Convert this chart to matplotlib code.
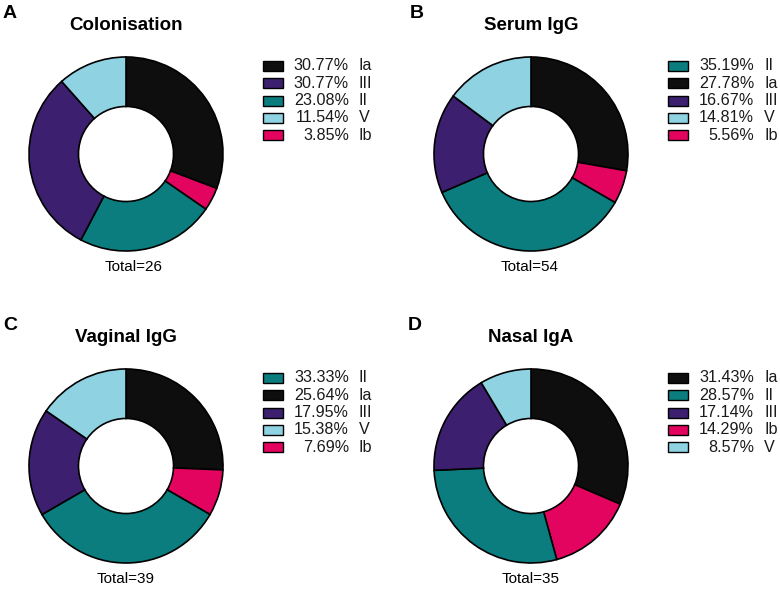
import matplotlib
matplotlib.use('Agg')
import matplotlib.pyplot as plt
from matplotlib.patches import Rectangle

plt.rcParams['font.family'] = ['Liberation Sans', 'DejaVu Sans']

# serotypes in clockwise drawing order
serotypes = ['Ia', 'Ib', 'II', 'III', 'V']
colours = ['#0e0e0e', '#e2045f', '#0b7d7e', '#3c1f6f', '#8fd3e3']

titles = ['Colonisation', 'Serum IgG', 'Vaginal IgG', 'Nasal IgA']
letters = ['A', 'B', 'C', 'D']
totals = [26, 54, 39, 35]

colonisation = [30.77, 3.85, 23.08, 30.77, 11.54]
serum_igg = [27.78, 5.56, 35.19, 16.67, 14.81]
vaginal_igg = [25.64, 7.69, 33.33, 17.95, 15.38]
nasal_iga = [31.43, 14.29, 28.57, 17.14, 8.57]
panels = [colonisation, serum_igg, vaginal_igg, nasal_iga]

W, H = 780, 589
fig = plt.figure(figsize=(W / 100, H / 100), dpi=100)


def fx(px):
    return px / W


def fy(py):
    return 1 - py / H


# layout in pixels: donut centre, letter x, total x, legend box x
centres = [(126, 154), (531, 154), (126, 466), (531, 466)]
letter_x = [3, 410, 3, 408]
total_x = [134, 530, 126, 531]
legend_x = [263, 668, 263, 668]
R = 97
pad = 1.03

for i, vals in enumerate(panels):
    cx, cy = centres[i]
    dy = cy - 154
    r = R * pad
    ax = fig.add_axes([fx(cx - r), fy(cy + r), 2 * r / W, 2 * r / H])
    ax.pie(vals, colors=colours, startangle=90, counterclock=False,
           wedgeprops=dict(width=0.51, edgecolor='black', linewidth=1.2))
    ax.set_xlim(-pad, pad)
    ax.set_ylim(-pad, pad)
    ax.axis('off')

    fig.text(fx(letter_x[i]), fy(13 + dy), letters[i], fontsize=14,
             fontweight='bold', ha='left', va='center')
    fig.text(fx(cx), fy(25 + dy), titles[i], fontsize=13.5,
             fontweight='bold', ha='center', va='center')
    fig.text(fx(total_x[i]), fy(267 + dy), 'Total=%d' % totals[i],
             fontsize=11, ha='center', va='center')

    # legend sorted by share, largest first
    order = sorted(range(len(vals)), key=lambda k: -vals[k])
    bx = legend_x[i]
    for row, k in enumerate(order):
        ry = 66 + dy + row * 17.3
        fig.add_artist(Rectangle((fx(bx), fy(ry + 5)), 20 / W, 10 / H,
                                 transform=fig.transFigure,
                                 facecolor=colours[k], edgecolor='black',
                                 linewidth=1.0))
        fig.text(fx(bx + 86), fy(ry), '%.2f%%' % vals[k], fontsize=11.6,
                 ha='right', va='center', color='#1a1a1a')
        fig.text(fx(bx + 96), fy(ry), serotypes[k], fontsize=11.6,
                 ha='left', va='center', color='#1a1a1a')

fig.savefig('out.png', dpi=100)
